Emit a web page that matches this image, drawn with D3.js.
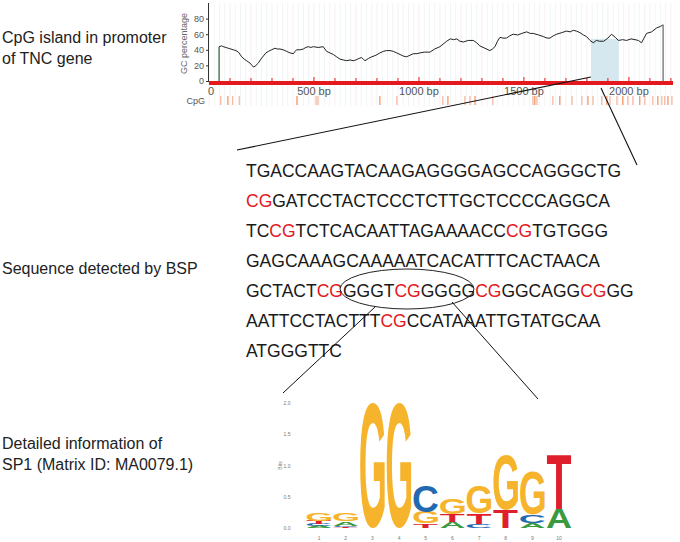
<!DOCTYPE html>
<meta charset="utf-8">
<script src="https://d3js.org/d3.v7.min.js"></script>
<style>
  body { margin: 0; background: #fff; }
  svg text { font-family: "Liberation Sans", Arial, sans-serif; }
</style>
<body>
<svg id="svg" width="680" height="542"></svg>
<script>
// GC percentage along the promoter (bp, %)
var gcPos = [48, 60, 68, 80, 92, 104, 116, 128, 140, 156, 168, 179, 195, 205, 211, 220, 235, 247, 259, 271, 283, 298, 314, 326, 338, 354, 370, 386, 402, 410, 417, 433, 449, 461, 473, 485, 497, 520, 544, 552, 560, 576, 592, 608, 624, 640, 656, 672, 687, 700, 715, 727, 735, 743, 760, 775, 795, 814, 830, 846, 862, 878, 894, 910, 925, 941, 957, 973, 990, 1005, 1025, 1052, 1075, 1100, 1132, 1150, 1165, 1180, 1195, 1211, 1235, 1259, 1275, 1290, 1314, 1338, 1350, 1362, 1374, 1386, 1400, 1417, 1433, 1449, 1470, 1490, 1513, 1530, 1544, 1570, 1592, 1610, 1624, 1640, 1656, 1680, 1703, 1720, 1735, 1750, 1767, 1783, 1798, 1815, 1830, 1845, 1860, 1880, 1900, 1917, 1935, 1950, 1970, 1989, 2010, 2029, 2045, 2060, 2072, 2084, 2108, 2132, 2150, 2163];
var gcVal = [44, 45, 44, 43, 42, 41, 40, 39, 37, 31, 28, 26, 23, 20, 18, 19, 23, 28, 32, 36, 38, 40, 42, 41, 41, 40, 38, 36, 35, 38, 40, 40, 41, 43, 44, 43, 44, 43, 44, 41, 38, 36, 34, 31, 28, 27, 26, 27, 26, 27, 29, 30, 28, 26, 29, 31, 33, 36, 38, 39, 39, 38, 36, 34, 32, 31, 33, 35, 35, 36, 37, 37, 41, 44, 51, 54, 53, 54, 51, 50, 52, 52, 49, 45, 42, 39, 41, 44, 51, 56, 55, 55, 58, 60, 59, 61, 63, 61, 61, 59, 57, 55, 55, 58, 60, 62, 64, 63, 65, 64, 62, 59, 57, 52, 49, 52, 51, 51, 55, 60, 56, 52, 53, 52, 54, 53, 52, 49, 55, 61, 63, 68, 70, 72];
// CpG sites (bp)
var cpgSites = [56, 90, 113, 144, 419, 510, 519, 814, 895, 1114, 1138, 1219, 1243, 1267, 1352, 1543, 1552, 1562, 1638, 1671, 1729, 1776, 1805, 1829, 1871, 1895, 1910, 1943, 1971, 1995, 2019, 2052, 2076, 2114, 2138, 2157, 2171, 2186, 2205];
var seqLength = 2210;
var xTicks = [0, 500, 1000, 1500, 2000];
var yTicks = [0, 20, 40, 60, 80];
var bspRegion = [1819, 1952];

// sequence detected by BSP, split in plain / CpG pieces
var seqLines = [
  ["TGACCAAGTACAAGAGGGGAGCCAGGGCTG"],
  ["", "CG", "GATCCTACTCCCTCTTGCTCCCCAGGCA"],
  ["TC", "CG", "TCTCACAATTAGAAAACC", "CG", "TGTGGG"],
  ["GAGCAAAGCAAAAATCACATTTCACTAACA"],
  ["GCTACT", "CG", "GGGT", "CG", "GGGG", "CG", "GGCAGG", "CG", "GG"],
  ["AATTCCTACTTT", "CG", "CCATAAATTGTATGCAA"],
  ["ATGGGTTC"]
];

// SP1 motif (MA0079.1) information content, bits
var logoPos = [1, 2, 3, 4, 5, 6, 7, 8, 9, 10];
var logoA = [0.03, 0.07, 0, 0, 0, 0.10, 0, 0, 0.08, 0.30];
var logoC = [0.03, 0.02, 0, 0, 0.42, 0, 0.07, 0, 0.13, 0];
var logoG = [0.13, 0.12, 2.0, 2.0, 0.18, 0.26, 0.44, 0.89, 0.70, 0];
var logoT = [0.05, 0.015, 0, 0, 0.07, 0.12, 0.17, 0.29, 0, 0.88];
var logoTicks = [0, 0.5, 1, 1.5, 2];

var svg = d3.select("svg");

// ---- left labels
var labels = [
  {t: "CpG island in promoter", y: 43},
  {t: "of TNC gene", y: 64},
  {t: "Sequence detected by BSP", y: 274},
  {t: "Detailed information of", y: 449},
  {t: "SP1 (Matrix ID: MA0079.1)", y: 470}
];
svg.selectAll("text.lab").data(labels).enter().append("text")
  .attr("class", "lab")
  .attr("x", 2).attr("y", function(d) { return d.y; })
  .attr("font-size", 16).attr("fill", "#222")
  .text(function(d) { return d.t; });

// ---- top GC chart
var x = d3.scaleLinear().domain([0, seqLength]).range([209, 673]);
var y = d3.scaleLinear().domain([0, 100]).range([81, 3]);

var gcChart = svg.append("g");

// faint vertical grid
gcChart.append("g").selectAll("line").data(d3.range(0, seqLength, 25)).enter().append("line")
  .attr("x1", function(d) { return x(d); }).attr("x2", function(d) { return x(d); })
  .attr("y1", 3).attr("y2", 106)
  .attr("stroke", function(d, i) { return i % 4 == 0 ? "#f7ecec" : "#edf3f5"; })
  .attr("stroke-width", 0.8);

// BSP region
gcChart.append("rect")
  .attr("x", x(bspRegion[0])).attr("width", x(bspRegion[1]) - x(bspRegion[0]))
  .attr("y", y(54)).attr("height", y(0) - y(54))
  .attr("fill", "#d5e8ef");

// GC line
var line = d3.line().x(function(d) { return x(d[0]); }).y(function(d) { return y(d[1]); });
var gcData = gcPos.map(function(p, i) { return [p, gcVal[i]]; });
gcChart.append("path").datum(gcData)
  .attr("d", line).attr("fill", "none").attr("stroke", "#222").attr("stroke-width", 1);

gcChart.append("line")
  .attr("x1", x(gcPos[0])).attr("x2", x(gcPos[0]))
  .attr("y1", y(0)).attr("y2", y(gcVal[0]))
  .attr("stroke", "#2f5a35").attr("stroke-width", 1.2);
gcChart.append("line")
  .attr("x1", x(gcPos[gcPos.length - 1])).attr("x2", x(gcPos[gcPos.length - 1]))
  .attr("y1", y(0)).attr("y2", y(gcVal[gcVal.length - 1]))
  .attr("stroke", "#8a8a8a").attr("stroke-width", 1.6);

// red sequence bar with 100bp ticks
gcChart.append("rect")
  .attr("x", x(0)).attr("width", x(seqLength) - x(0))
  .attr("y", y(0)).attr("height", 4)
  .attr("fill", "#e3191e");
gcChart.append("g").selectAll("line").data(d3.range(100, seqLength, 100)).enter().append("line")
  .attr("x1", function(d) { return x(d); }).attr("x2", function(d) { return x(d); })
  .attr("y1", y(0)).attr("y2", function(d) { return d % 500 == 0 ? y(0) - 4 : y(0) - 3; })
  .attr("stroke", "#e3191e").attr("stroke-width", 1);

// y axis
var yAxis = gcChart.append("g")
  .attr("transform", "translate(" + x(0) + ",0)")
  .call(d3.axisLeft(y).tickValues(yTicks).tickSize(3).tickPadding(2));
yAxis.select(".domain").attr("stroke", "#333").attr("d", "M-0.5," + y(100) + "V" + y(0));
yAxis.selectAll(".tick line").attr("stroke", "#333");
yAxis.selectAll("text").attr("font-size", 9).attr("fill", "#555").attr("font-family", "Liberation Sans, Arial, sans-serif");

gcChart.append("text")
  .attr("transform", "translate(187," + y(48) + ") rotate(-90)")
  .attr("text-anchor", "middle").attr("font-size", 9).attr("fill", "#666")
  .text("GC percentage");

// x labels
gcChart.append("g").selectAll("text").data(xTicks).enter().append("text")
  .attr("x", function(d) { return d == 0 ? x(d) + 2 : x(d); }).attr("y", 95)
  .attr("text-anchor", "middle").attr("font-size", 11).attr("fill", "#555")
  .text(function(d) { return d == 0 ? "0" : d + " bp"; });

// CpG track
gcChart.append("text").attr("x", 205).attr("y", 104)
  .attr("text-anchor", "end").attr("font-size", 9).attr("fill", "#555").text("CpG");
gcChart.append("g").selectAll("line").data(cpgSites).enter().append("line")
  .attr("x1", function(d) { return x(d); }).attr("x2", function(d) { return x(d); })
  .attr("y1", 96).attr("y2", 105)
  .attr("stroke", function(d, i) { return i % 3 == 1 ? "#f07a3c" : "#f3a48a"; })
  .attr("stroke-width", 1);

// zoom lines from BSP region to sequence
svg.append("line").attr("x1", x(bspRegion[0])).attr("y1", 77).attr("x2", 237).attr("y2", 150)
  .attr("stroke", "#111").attr("stroke-width", 1.1);
svg.append("line").attr("x1", x(1867)).attr("y1", 88).attr("x2", 637).attr("y2", 165)
  .attr("stroke", "#111").attr("stroke-width", 1.1);

// ---- sequence text
var seqG = svg.append("g");
seqLines.forEach(function(parts, i) {
  var t = seqG.append("text")
    .attr("x", 246).attr("y", 177 + 30 * i)
    .attr("font-size", 17.5).attr("fill", "#1a1a1a");
  parts.forEach(function(p, j) {
    t.append("tspan").attr("fill", j % 2 == 1 ? "#e3191e" : "#1a1a1a").text(p);
  });
});

// ellipse around the SP1 site and lines to the logo
svg.append("ellipse").attr("cx", 407).attr("cy", 289).attr("rx", 67).attr("ry", 20)
  .attr("fill", "none").attr("stroke", "#222").attr("stroke-width", 1);
svg.append("line").attr("x1", 375).attr("y1", 307).attr("x2", 283).attr("y2", 393)
  .attr("stroke", "#111").attr("stroke-width", 1);
svg.append("line").attr("x1", 452).attr("y1", 302).attr("x2", 538).attr("y2", 399)
  .attr("stroke", "#111").attr("stroke-width", 1);

// ---- sequence logo
var lx = d3.scaleBand().domain(logoPos).range([305.7, 572.4]).paddingInner(0.08).paddingOuter(0.04);
var ly = d3.scaleLinear().domain([0, 2]).range([528, 403]);
var baseColor = {A: "#3b9a3f", C: "#2369b0", G: "#f6b42c", T: "#e01f2d"};

var canvas = document.createElement("canvas");
var ctx = canvas.getContext("2d");
ctx.font = "bold 100px 'Liberation Sans', Arial, sans-serif";
var glyph = {};
["A", "C", "G", "T"].forEach(function(b) {
  var m = ctx.measureText(b);
  glyph[b] = {l: m.actualBoundingBoxLeft, r: m.actualBoundingBoxRight,
              a: m.actualBoundingBoxAscent, d: m.actualBoundingBoxDescent};
});

var logoG_ = svg.append("g");
logoPos.forEach(function(p, i) {
  var stack = [["A", logoA[i]], ["C", logoC[i]], ["G", logoG[i]], ["T", logoT[i]]]
    .filter(function(s) { return s[1] > 0; });
  stack.sort(function(a, b) { return a[1] - b[1]; });
  var acc = 0;
  stack.forEach(function(s) {
    var g = glyph[s[0]];
    var y0 = ly(acc + s[1]), h = ly(acc) - ly(acc + s[1]);
    var w = lx.bandwidth();
    var sx = w / (g.l + g.r), sy = h / (g.a + g.d);
    logoG_.append("text")
      .attr("transform", "translate(" + lx(p) + "," + y0 + ") scale(" + sx + "," + sy + ") translate(" + g.l + "," + g.a + ")")
      .attr("font-size", 100).attr("font-weight", "bold").attr("fill", baseColor[s[0]])
      .text(s[0]);
    acc += s[1];
  });
});

// logo axes
svg.append("g").selectAll("text").data(logoTicks).enter().append("text")
  .attr("x", 287).attr("y", function(d) { return ly(d) + 2; })
  .attr("text-anchor", "middle").attr("font-size", 5).attr("fill", "#777")
  .text(function(d) { return d.toFixed(1); });
svg.append("text").attr("transform", "translate(282," + ly(1) + ") rotate(-90)")
  .attr("text-anchor", "middle").attr("font-size", 5).attr("fill", "#777").text("Bits");
svg.append("g").selectAll("text").data(logoPos).enter().append("text")
  .attr("x", function(d) { return lx(d) + lx.bandwidth() / 2; }).attr("y", 540)
  .attr("text-anchor", "middle").attr("font-size", 5).attr("fill", "#777")
  .text(function(d) { return d; });
</script>
</body>
